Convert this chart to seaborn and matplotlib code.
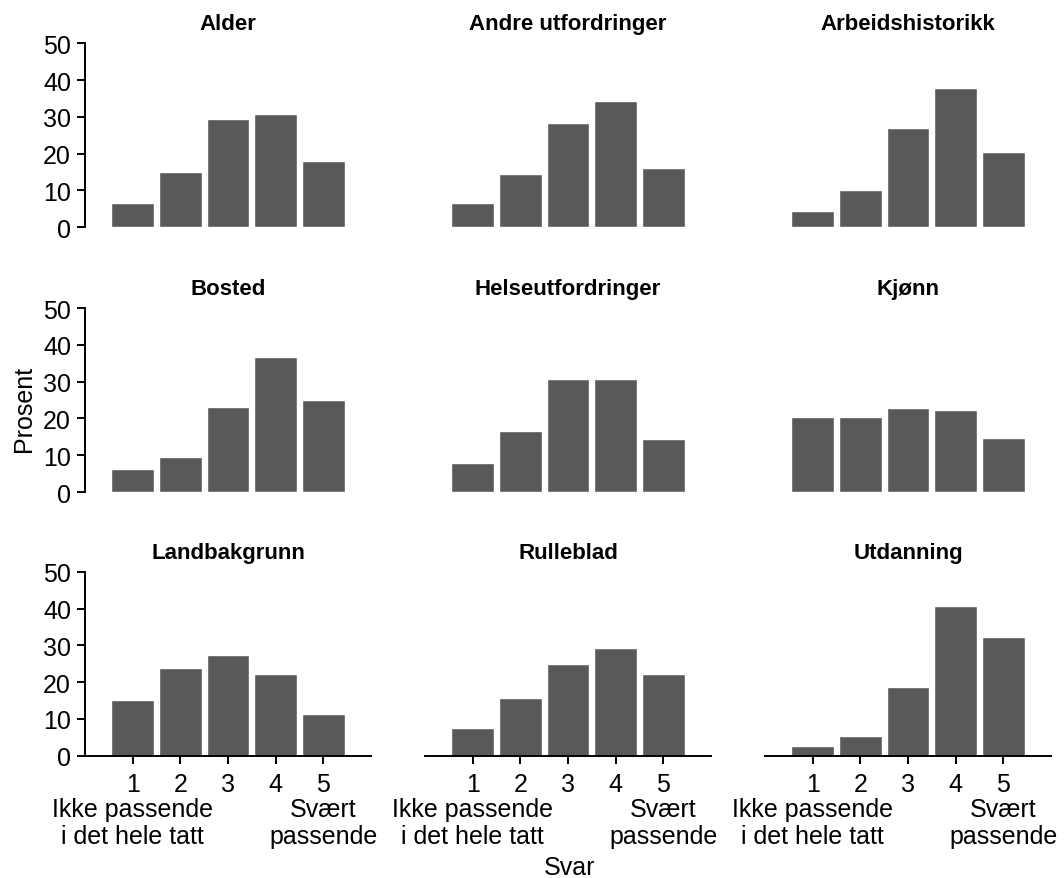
import pandas as pd
import matplotlib
matplotlib.use("Agg")
from matplotlib import pyplot as plt
import seaborn as sns

#%% # Data (percent per answer 1-5)

svar = [1, 2, 3, 4, 5]
tick_labels = ["1", "2", "3", "4", "5"]
low_label = "Ikke passende\ni det hele tatt"
high_label = "Svært\npassende"

panels = ["Alder", "Andre utfordringer", "Arbeidshistorikk",
          "Bosted", "Helseutfordringer", "Kjønn",
          "Landbakgrunn", "Rulleblad", "Utdanning"]

alder = [6.6, 14.9, 29.4, 30.9, 17.9]
andre_utfordringer = [6.6, 14.5, 28.3, 34.3, 16.1]
arbeidshistorikk = [4.5, 10.1, 27.1, 37.9, 20.4]
bosted = [6.3, 9.4, 23.1, 36.6, 24.9]
helseutfordringer = [7.9, 16.5, 30.6, 30.8, 14.3]
kjonn = [20.3, 20.3, 22.8, 22.3, 14.6]
landbakgrunn = [15.2, 23.9, 27.4, 22.1, 11.4]
rulleblad = [7.6, 15.8, 24.8, 29.3, 22.2]
utdanning = [2.6, 5.4, 18.6, 40.8, 32.2]

values = [alder, andre_utfordringer, arbeidshistorikk,
          bosted, helseutfordringer, kjonn,
          landbakgrunn, rulleblad, utdanning]

df = pd.DataFrame({
    "panel": [p for p in panels for _ in svar],
    "svar": svar * len(panels),
    "prosent": [v for vals in values for v in vals],
})

#%% # Plot

sns.set_theme(style="white")
plt.rcParams['font.family'] = ['Liberation Sans', 'DejaVu Sans']
plt.rcParams['text.color'] = 'black'
plt.rcParams['axes.labelcolor'] = 'black'

fig = plt.figure(figsize=(10.64, 8.79), dpi=100)

lefts = [0.0799, 0.3994, 0.7190]
bottoms = [0.7403, 0.4391, 0.1391]
w, h = 0.2688, 0.2093

for i, panel in enumerate(panels):
    row, col = divmod(i, 3)
    ax = fig.add_axes([lefts[col], bottoms[row], w, h])
    sub = df[df.panel == panel]
    sns.barplot(data=sub, x="svar", y="prosent", ax=ax, color="#595959",
                saturation=1, width=0.9, errorbar=None, order=svar)
    ax.set_xlim(-1, 5)
    ax.set_ylim(0, 50)
    ax.set_title(panel, fontsize=16, fontweight="bold", pad=10, color="black")
    ax.set_xlabel("")
    ax.set_ylabel("")
    for s in ["top", "right"]:
        ax.spines[s].set_visible(False)

    if col == 0:
        ax.spines["left"].set_linewidth(1.4)
        ax.spines["left"].set_color("black")
        ax.set_yticks([0, 10, 20, 30, 40, 50])
        ax.tick_params(axis="y", left=True, length=6, width=1.4,
                       labelsize=18, pad=4, colors="black")
    else:
        ax.spines["left"].set_visible(False)
        ax.set_yticks([])

    if row == 2:
        ax.spines["bottom"].set_linewidth(1.4)
        ax.spines["bottom"].set_color("black")
        ax.set_xticks(range(len(svar)))
        ax.set_xticklabels(tick_labels)
        ax.tick_params(axis="x", bottom=True, length=6, width=1.4,
                       labelsize=18, pad=6, colors="black")
        # descriptive text under the end ticks
        trans = ax.get_xaxis_transform()
        for pos, txt in [(0, low_label), (len(svar) - 1, high_label)]:
            ax.annotate(txt, xy=(pos, 0), xycoords=trans,
                        xytext=(0, -30), textcoords="offset points",
                        ha="center", va="top", fontsize=18,
                        linespacing=1.12, annotation_clip=False)
    else:
        ax.spines["bottom"].set_visible(False)
        ax.set_xticks([])

fig.text(0.5357, 0.0045, "Svar", ha="center", va="baseline", fontsize=18)
fig.text(0.011, 0.535, "Prosent", ha="left", va="center", rotation=90, fontsize=18)

plt.savefig("out.png", dpi=100)
